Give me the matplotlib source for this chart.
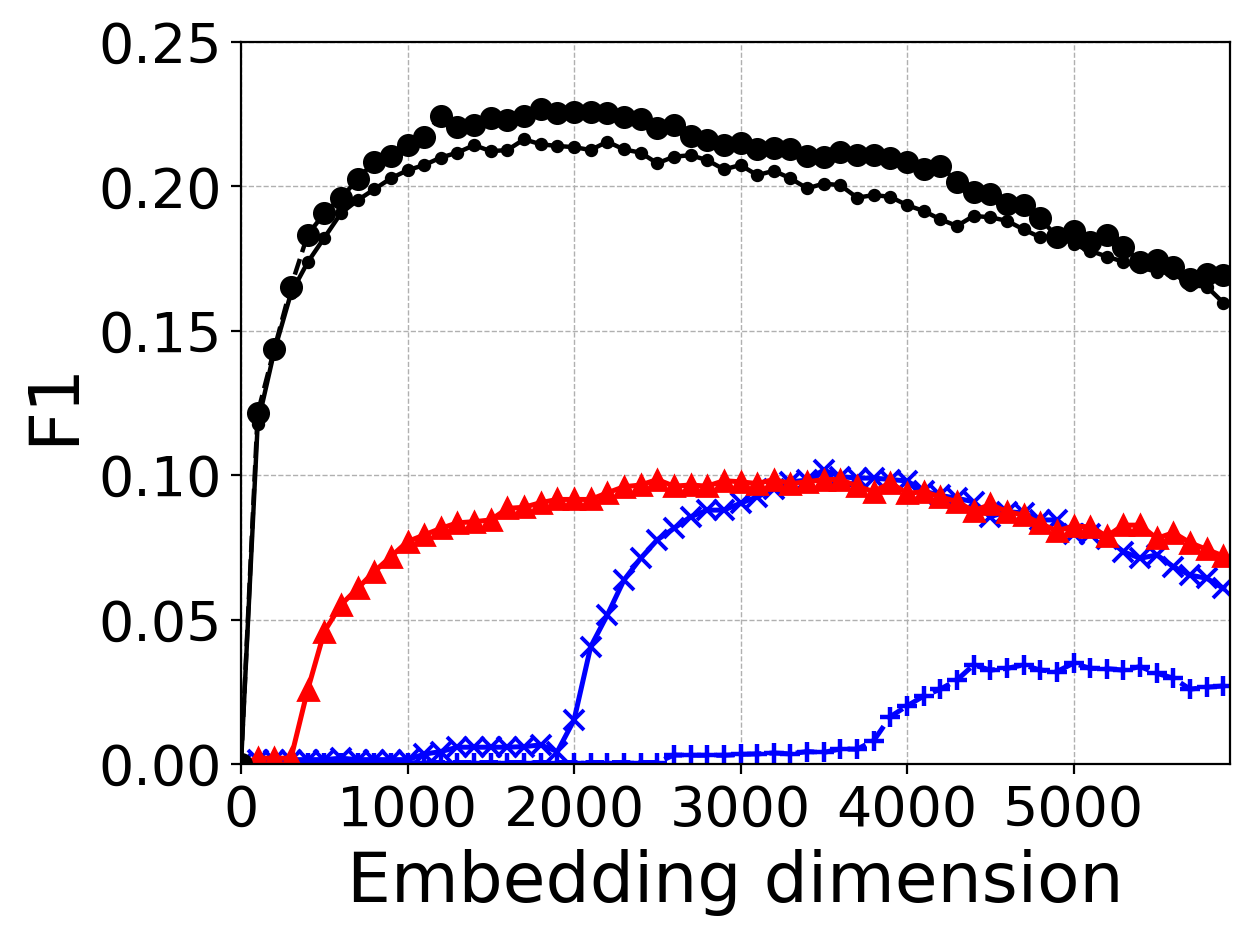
import numpy as np
import matplotlib
matplotlib.use("Agg")
import matplotlib.pyplot as plt

# embedding dimension 0..5900, step 100
dims = list(range(0, 6000, 100))

# black, big circles, dashed
f1_big = [0.0, 0.1215, 0.1437, 0.1653, 0.1832, 0.1907, 0.1959, 0.2025, 0.2086, 0.2105,
          0.2143, 0.2172, 0.2245, 0.2207, 0.2213, 0.2236, 0.2230, 0.2244, 0.2268, 0.2255,
          0.2258, 0.2258, 0.2255, 0.2239, 0.2233, 0.2202, 0.2213, 0.2175, 0.2161, 0.2143,
          0.2151, 0.2128, 0.2132, 0.2128, 0.2105, 0.2103, 0.2120, 0.2108, 0.2108, 0.2097,
          0.2086, 0.2060, 0.2071, 0.2016, 0.1981, 0.1972, 0.1939, 0.1935, 0.1889, 0.1826,
          0.1845, 0.1808, 0.1832, 0.1791, 0.1739, 0.1745, 0.1720, 0.1681, 0.1697, 0.1693]

# black, small dots, solid
f1_small = [0.0, 0.1177, 0.1430, 0.1630, 0.1737, 0.1822, 0.1907, 0.1952, 0.1990, 0.2028,
            0.2056, 0.2074, 0.2100, 0.2117, 0.2143, 0.2122, 0.2126, 0.2163, 0.2146, 0.2140,
            0.2136, 0.2126, 0.2155, 0.2128, 0.2117, 0.2080, 0.2103, 0.2108, 0.2091, 0.2059,
            0.2074, 0.2039, 0.2054, 0.2028, 0.1993, 0.2010, 0.2004, 0.1961, 0.1970, 0.1964,
            0.1935, 0.1915, 0.1886, 0.1863, 0.1898, 0.1893, 0.1881, 0.1851, 0.1824, 0.1828,
            0.1800, 0.1777, 0.1757, 0.1739, 0.1720, 0.1704, 0.1699, 0.1658, 0.1653, 0.1597]

# red triangles, solid
f1_tri = [0.0, 0.0020, 0.0020, 0.0020, 0.0256, 0.0458, 0.0551, 0.0608, 0.0666, 0.0718,
          0.0770, 0.0793, 0.0816, 0.0835, 0.0839, 0.0845, 0.0885, 0.0889, 0.0905, 0.0916,
          0.0916, 0.0916, 0.0939, 0.0960, 0.0966, 0.0985, 0.0962, 0.0966, 0.0962, 0.0981,
          0.0977, 0.0971, 0.0985, 0.0971, 0.0977, 0.0985, 0.0985, 0.0962, 0.0943, 0.0974,
          0.0937, 0.0943, 0.0925, 0.0908, 0.0876, 0.0899, 0.0874, 0.0862, 0.0833, 0.0807,
          0.0824, 0.0821, 0.0789, 0.0827, 0.0827, 0.0781, 0.0801, 0.0766, 0.0743, 0.0720]

# blue x, solid
f1_x = [0.0, 0.0015, 0.0015, 0.0015, 0.0015, 0.0015, 0.0020, 0.0015, 0.0015, 0.0015,
        0.0015, 0.0034, 0.0043, 0.0058, 0.0058, 0.0058, 0.0058, 0.0060, 0.0066, 0.0043,
        0.0152, 0.0406, 0.0516, 0.0637, 0.0712, 0.0776, 0.0816, 0.0856, 0.0879, 0.0879,
        0.0903, 0.0925, 0.0951, 0.0977, 0.0983, 0.1018, 0.0995, 0.0990, 0.0990, 0.0985,
        0.0980, 0.0945, 0.0930, 0.0920, 0.0908, 0.0856, 0.0874, 0.0869, 0.0845, 0.0845,
        0.0798, 0.0798, 0.0780, 0.0735, 0.0712, 0.0724, 0.0683, 0.0654, 0.0643, 0.0608]

# blue plus, dashed
f1_plus = [0.0, 0.0003, 0.0003, 0.0003, 0.0003, 0.0003, 0.0003, 0.0003, 0.0003, 0.0003,
           0.0003, 0.0005, 0.0005, 0.0005, 0.0005, 0.0005, 0.0005, 0.0005, 0.0005, 0.0005,
           0.0005, 0.0005, 0.0005, 0.0005, 0.0005, 0.0005, 0.0031, 0.0030, 0.0030, 0.0030,
           0.0033, 0.0035, 0.0038, 0.0035, 0.0043, 0.0040, 0.0052, 0.0051, 0.0081, 0.0164,
           0.0201, 0.0235, 0.0259, 0.0291, 0.0343, 0.0325, 0.0331, 0.0343, 0.0325, 0.0320,
           0.0349, 0.0331, 0.0330, 0.0325, 0.0337, 0.0314, 0.0297, 0.0259, 0.0266, 0.0270]

fig = plt.figure(figsize=(6.27, 4.68), dpi=200)
ax = fig.add_axes([0.1922, 0.1838, 0.7887, 0.7713])

ax.plot(dims, f1_plus, color='b', linestyle='--', linewidth=1.8, marker='+', markersize=7, markeredgewidth=1.6)
ax.plot(dims, f1_x, color='b', linestyle='-', linewidth=1.8, marker='x', markersize=7, markeredgewidth=1.4)
ax.plot(dims, f1_tri, color='r', linestyle='-', linewidth=1.8, marker='^', markersize=7)
ax.plot(dims, f1_small, color='k', linestyle='-', linewidth=1.6, marker='o', markersize=3.8)
ax.plot(dims, f1_big, color='k', linestyle='--', linewidth=1.6, marker='o', markersize=7.3)

ax.set_xlim(0, 5940)
ax.set_ylim(0, 0.25)
ax.set_xticks([0, 1000, 2000, 3000, 4000, 5000])
ax.set_yticks([0.0, 0.05, 0.10, 0.15, 0.20, 0.25])
ax.tick_params(labelsize=20)
ax.set_xlabel("Embedding dimension", fontsize=25)
ax.set_ylabel("F1", fontsize=25)
ax.grid(True, linestyle='--', linewidth=0.5, color='#b0b0b0')

fig.savefig("out.png", dpi=200)
